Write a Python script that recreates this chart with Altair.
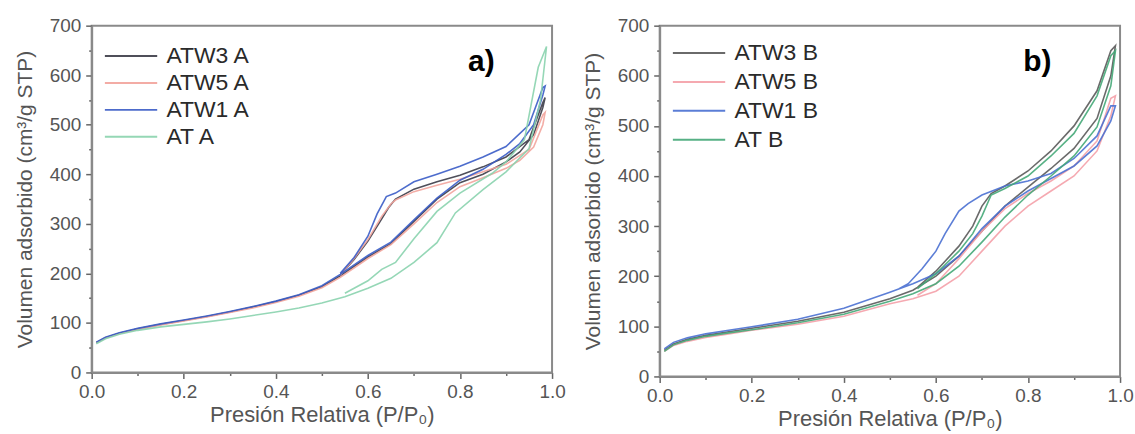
import altair as alt
import pandas as pd

# ---------------- panel a ----------------
a_names = ["ATW3 A", "ATW5 A", "ATW1 A", "AT A"]
a_colors = ["#3c3c48", "#f2a49c", "#3a5cc6", "#8ad3ae"]

atw3a_p = [0.01, 0.03, 0.06, 0.1, 0.15, 0.2, 0.25, 0.3, 0.35, 0.4, 0.45, 0.5, 0.54, 0.6, 0.65, 0.7, 0.75, 0.8, 0.85, 0.9, 0.93, 0.96, 0.98, 0.985,
           0.98, 0.95, 0.9, 0.85, 0.8, 0.75, 0.7, 0.66, 0.645, 0.63, 0.6, 0.57, 0.54]
atw3a_v = [60, 70, 79, 88, 97, 105, 113, 122, 132, 143, 156, 173, 195, 233, 260, 305, 350, 383, 400, 425, 445, 480, 535, 555,
           545, 470, 435, 415, 398, 385, 370, 350, 333, 310, 265, 228, 197]

atw5a_p = [0.01, 0.03, 0.06, 0.1, 0.15, 0.2, 0.25, 0.3, 0.35, 0.4, 0.45, 0.5, 0.54, 0.6, 0.65, 0.7, 0.75, 0.8, 0.85, 0.9, 0.93, 0.96, 0.98, 0.985,
           0.98, 0.95, 0.9, 0.85, 0.8, 0.75, 0.7, 0.66, 0.65, 0.63, 0.6, 0.57, 0.54]
atw5a_v = [60, 70, 78, 87, 96, 104, 112, 121, 130, 141, 154, 171, 192, 230, 258, 300, 343, 375, 393, 412, 428, 455, 500, 525,
           520, 450, 420, 405, 390, 378, 365, 348, 340, 315, 268, 230, 196]

atw1a_p = [0.01, 0.03, 0.06, 0.1, 0.15, 0.2, 0.25, 0.3, 0.35, 0.4, 0.45, 0.5, 0.54, 0.6, 0.65, 0.7, 0.75, 0.8, 0.85, 0.9, 0.93, 0.96, 0.98, 0.985,
           0.98, 0.95, 0.9, 0.85, 0.8, 0.75, 0.7, 0.66, 0.64, 0.62, 0.6, 0.57, 0.54]
atw1a_v = [61, 71, 80, 89, 98, 106, 114, 123, 133, 144, 157, 175, 198, 236, 263, 308, 352, 388, 410, 440, 462, 500, 560, 578,
           575, 500, 456, 435, 416, 400, 385, 362, 355, 320, 275, 232, 200]

ata_p = [0.01, 0.03, 0.06, 0.1, 0.15, 0.2, 0.25, 0.3, 0.35, 0.4, 0.45, 0.5, 0.55, 0.6, 0.65, 0.7, 0.75, 0.79, 0.85, 0.9, 0.95, 0.975, 0.988,
         0.97, 0.94, 0.9, 0.87, 0.8, 0.75, 0.7, 0.66, 0.63, 0.6, 0.55]
ata_v = [58, 68, 77, 85, 92, 97, 102, 108, 115, 122, 130, 140, 153, 170, 190, 222, 262, 322, 369, 405, 452, 550, 658,
         616, 470, 425, 402, 362, 325, 270, 222, 208, 185, 160]

# ---------------- panel b ----------------
b_names = ["ATW3 B", "ATW5 B", "ATW1 B", "AT B"]
b_colors = ["#5a5a5a", "#f4a0a8", "#4a70d2", "#45a878"]

b_ads_p = [0.01, 0.03, 0.06, 0.1, 0.15, 0.2, 0.3, 0.4, 0.5, 0.55, 0.6, 0.65, 0.7, 0.75, 0.8, 0.85, 0.9, 0.95, 0.98, 0.99]

atw3b_p = b_ads_p + [0.98, 0.95, 0.9, 0.85, 0.8, 0.75, 0.72, 0.7, 0.68, 0.65, 0.6, 0.56]
atw3b_v = [52, 65, 74, 82, 89, 96, 110, 128, 155, 172, 200, 240, 290, 340, 378, 415, 455, 515, 600, 660,
           650, 570, 500, 450, 410, 380, 365, 340, 300, 260, 210, 178]

atw5b_p = b_ads_p + [0.98, 0.95, 0.9, 0.85, 0.8, 0.75, 0.7, 0.65, 0.6, 0.56]
atw5b_v = [50, 62, 70, 78, 85, 92, 104, 120, 145, 155, 170, 200, 250, 300, 340, 370, 400, 450, 520, 560,
           555, 470, 420, 390, 365, 335, 290, 235, 185, 162]

atw1b_p = b_ads_p + [0.98, 0.95, 0.9, 0.85, 0.8, 0.75, 0.7, 0.67, 0.65, 0.62, 0.6, 0.57, 0.54, 0.52]
atw1b_v = [55, 68, 77, 85, 92, 99, 114, 136, 168, 185, 205, 240, 295, 340, 370, 395, 420, 460, 510, 540,
           540, 480, 435, 405, 390, 380, 362, 345, 330, 285, 250, 215, 185, 175]

atb_p = b_ads_p + [0.98, 0.95, 0.9, 0.85, 0.8, 0.75, 0.72, 0.7, 0.68, 0.65, 0.6, 0.56]
atb_v = [50, 63, 72, 80, 87, 93, 107, 124, 150, 165, 185, 220, 268, 318, 362, 400, 440, 498, 580, 650,
         640, 560, 485, 440, 400, 375, 362, 320, 285, 250, 205, 175]

panel_labels = ["a)", "b)"]
x_title = "Presión Relativa (P/P₀)"
y_title = "Volumen adsorbido (cm³/g STP)"


def frame(names, ps, vs):
    rows = []
    for n, p, v in zip(names, ps, vs):
        for i, (pp, vv) in enumerate(zip(p, v)):
            rows.append({"series": n, "P": pp, "V": vv, "i": i})
    return pd.DataFrame(rows)


df_a = frame(a_names, [atw3a_p, atw5a_p, atw1a_p, ata_p], [atw3a_v, atw5a_v, atw1a_v, ata_v])
df_b = frame(b_names, [atw3b_p, atw5b_p, atw1b_p, atb_p], [atw3b_v, atw5b_v, atw1b_v, atb_v])

FONT = "Liberation Sans"
x_vals = [round(k * 0.1, 1) for k in range(11)]
y_vals = [k * 50 for k in range(15)]


def panel(df, names, colors, label, lab_x, lab_y, h, leg_y, row_pad):
    xaxis = alt.Axis(
        title=x_title, values=x_vals, labelFlush=False,
        labelExpr="round(datum.value*10) % 2 == 0 ? format(datum.value, '.1f') : ''",
        tickSize={"condition": {"test": "round(datum.value*10) % 2 == 1", "value": 3}, "value": 6},
        titlePadding=3, titleFontSize=22, labelPadding=4,
    )
    yaxis = alt.Axis(
        title=y_title, values=y_vals, labelFlush=False,
        labelExpr="datum.value % 100 == 0 ? format(datum.value, 'd') : ''",
        tickSize={"condition": {"test": "datum.value % 100 != 0", "value": 3}, "value": 6},
        titlePadding=14, titleFontSize=21, labelPadding=5,
    )
    lines = alt.Chart(df).mark_line(strokeWidth=1.6, opacity=0.9).encode(
        x=alt.X("P:Q", scale=alt.Scale(domain=[0, 1], nice=False, zero=False), axis=xaxis),
        y=alt.Y("V:Q", scale=alt.Scale(domain=[0, 700], nice=False), axis=yaxis),
        color=alt.Color(
            "series:N",
            scale=alt.Scale(domain=names, range=colors),
            sort=names,
            legend=alt.Legend(
                title=None, orient="none", legendX=28, legendY=leg_y,
                symbolType="M-2.5,0L2.5,0", symbolSize=441, symbolStrokeWidth=2,
                labelFontSize=23, labelFont=FONT, labelColor="#2a2a2a",
                labelOffset=24, rowPadding=row_pad, padding=0,
            ),
        ),
        order="i:Q",
    )
    txt = alt.Chart(pd.DataFrame({"t": [label]})).mark_text(
        font=FONT, fontSize=30, fontWeight="bold", color="#000"
    ).encode(x=alt.value(lab_x), y=alt.value(lab_y), text="t:N")
    return alt.layer(lines, txt).properties(width=462, height=h)


left = panel(df_a, a_names, a_colors, panel_labels[0], 391, 36, 348, 19, 3)
right = panel(df_b, b_names, b_colors, panel_labels[1], 379, 36, 352, 16, 5)

chart = alt.hconcat(left, right, spacing=108, bounds="flush").resolve_scale(color="independent").properties(
    padding={"left": 13, "top": 15, "right": 0, "bottom": 0}, background="white"
).configure_view(stroke="#8a8a8a", strokeWidth=2).configure_axis(
    labelFont=FONT, titleFont=FONT, labelFontSize=19,
    labelColor="#555", titleColor="#555", titleFontWeight="normal",
    domainColor="#8a8a8a", domainWidth=2, tickColor="#666", tickWidth=1.5,
    grid=False,
)

chart.save("out.html", embed_options={"renderer": "svg", "actions": False})
